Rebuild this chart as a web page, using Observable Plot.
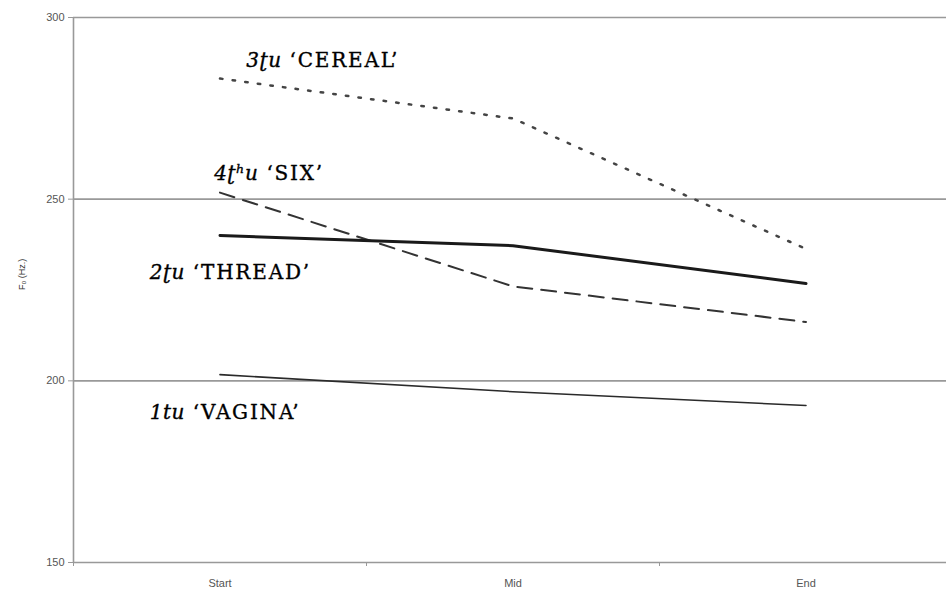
<!DOCTYPE html>
<html>
<head>
<meta charset="utf-8">
<script src="https://cdn.jsdelivr.net/npm/d3@7"></script>
<script src="https://cdn.jsdelivr.net/npm/@observablehq/plot@0.6"></script>
<style>
  html, body { margin: 0; padding: 0; background: #fff; }
</style>
</head>
<body>
<div id="chart"></div>
<script>
const categories = ["Start", "Mid", "End"];
const yTicks = [150, 200, 250, 300];

const seriesNames = ["CEREAL", "SIX", "THREAD", "VAGINA"];
const cereal = [283.2, 272.2, 236.3];
const six = [251.8, 226.0, 216.2];
const thread = [240.0, 237.2, 226.8];
const vagina = [201.7, 197.0, 193.2];

const labelItalic = ["3ʈu", "4ʈʰu", "2ʈu", "1tu"];
const labelWord = ["‘CEREAL’", "‘SIX’", "‘THREAD’", "‘VAGINA’"];
const labelAnchorX = [0.09, -0.02, -0.24, -0.24];
const labelAnchorY = [288.2, 257.1, 229.8, 191.3];

const seriesValues = [cereal, six, thread, vagina];
const rows = seriesNames.flatMap((s, si) =>
  seriesValues[si].map((v, i) => ({series: s, x: i, y: v}))
);
const styles = {
  CEREAL: {stroke: "#444", strokeWidth: 2.5, strokeDasharray: "2.5,10.2", strokeLinecap: "round"},
  SIX: {stroke: "#333", strokeWidth: 2, strokeDasharray: "15,9"},
  THREAD: {stroke: "#1a1a1a", strokeWidth: 3},
  VAGINA: {stroke: "#2a2a2a", strokeWidth: 1.6}
};
const labels = seriesNames.map((s, i) => ({
  text: labelItalic[i] + "|" + labelWord[i], x: labelAnchorX[i], y: labelAnchorY[i]
}));

const chart = Plot.plot({
  width: 946,
  height: 597,
  marginLeft: 73,
  marginRight: -6,
  marginTop: 17,
  marginBottom: 35,
  style: {background: "#fff", fontFamily: "Liberation Sans, Arial, sans-serif"},
  x: {type: "linear", domain: [-0.5, 2.5], axis: null},
  y: {domain: [150, 300], axis: null},
  marks: [
    Plot.ruleY(yTicks, {stroke: "#999", strokeWidth: 1.6}),
    Plot.ruleX([-0.5], {y1: 150, y2: 300, stroke: "#999", strokeWidth: 1.6}),
    Plot.axisY({ticks: yTicks, tickSize: 5, tickPadding: 4, stroke: "#999", fill: "#555", fontSize: 11, label: null, tickFormat: d => String(d)}),
    Plot.axisX({ticks: [-0.5, 0.5, 1.5], tickSize: 4, stroke: "#999", tickFormat: () => "", label: null}),
    Plot.axisX({ticks: [0, 1, 2], tickSize: 0, tickPadding: 17, fill: "#555", fontSize: 11, label: null, tickFormat: i => categories[i]}),
    ...seriesNames.map(s => Plot.line(rows.filter(r => r.series === s), {x: "x", y: "y", ...styles[s]})),
    Plot.text(labels, {x: "x", y: "y", text: "text", textAnchor: "start", fontSize: 20, fill: "#000", stroke: "#000", strokeWidth: 0.35, fontFamily: "DejaVu Serif, serif"}),
    Plot.text(["F₀ (Hz.)"], {text: d => d, frameAnchor: "left", dx: -51, rotate: -90, fontSize: 9, fill: "#333"})
  ]
});

d3.select(chart).selectAll("text").each(function() {
  const t = d3.select(this);
  const s = t.text();
  if (s.includes("|")) {
    const [a, b] = s.split("|");
    t.text(null);
    t.append("tspan").attr("font-style", "italic").attr("letter-spacing", "0.5px").text(a);
    t.append("tspan").attr("dx", 8).attr("letter-spacing", "1.8px").text(b);
  }
});

document.getElementById("chart").appendChild(chart);
</script>
</body>
</html>
